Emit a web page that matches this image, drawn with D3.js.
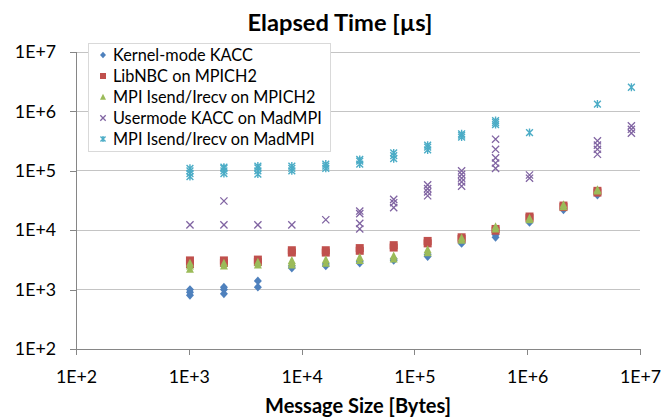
<!DOCTYPE html>
<html><head><meta charset="utf-8">
<script src="https://cdn.jsdelivr.net/npm/d3@7"></script>
<style>body{margin:0;background:#fff} svg{display:block;font-family:Lato,'Open Sans',sans-serif}</style>
</head><body><svg id="c" width="664" height="420"></svg>
<script>
// Message sizes (bytes)
const sizes = [1024, 2048, 4096, 8192, 16384, 32768, 65536, 131072, 262144, 524288, 1048576, 2097152, 4194304, 8388608];
// Elapsed time samples [µs] per size, per series
const kernelKACC = [[800, 900, 1000], [850, 1000, 1100], [1100, 1400], [2300, 2500], [2500, 2700], [2800, 3000], [3100, 3300], [3600, 3900], [6000, 6300], [7600, 8400], [13500], [22000], [39000], []];
const libNBC = [[2700, 3100], [2800, 3100], [2900, 3200], [4200, 4600], [4200, 4600], [4500, 5000], [5100, 5600], [6000, 6600], [7100, 7600], [9800, 10500], [16000, 17000], [24500, 26000], [43000, 46000], []];
const mpiMPICH2 = [[2200, 2500, 2800], [2500, 2800], [2600, 2900], [2600, 2900, 3100], [2800, 3200], [3100, 3500], [3300, 3700], [4200, 4700], [6800, 7400], [10500, 11500], [15000, 16000], [25000, 27000], [46000, 48000], []];
const userKACC = [[12300], [12300, 31000], [12300], [12300], [15000], [10500, 13000, 19000, 21000], [24000, 29000, 33000], [38000, 44000, 50000, 58000], [55000, 65000, 75000, 87000, 100000], [110000, 135000, 165000, 230000, 340000], [75000, 85000], [], [190000, 230000, 270000, 320000], [430000, 500000, 570000]];
const mpiMadMPI = [[80000, 90000, 100000, 110000], [90000, 100000, 110000, 115000], [88000, 100000, 112000, 120000], [100000, 110000, 120000], [110000, 120000, 130000], [130000, 145000, 155000], [160000, 180000, 200000], [225000, 250000, 270000], [370000, 400000, 420000], [600000, 650000, 700000], [440000], [], [1330000], [2550000]];
const seriesNames = ["Kernel-mode KACC", "LibNBC on MPICH2", "MPI Isend/Irecv on MPICH2", "Usermode KACC on MadMPI", "MPI Isend/Irecv on MadMPI"];
const tickValues = [1e2, 1e3, 1e4, 1e5, 1e6, 1e7];
const tickLabels = ["1E+2", "1E+3", "1E+4", "1E+5", "1E+6", "1E+7"];

const series = [
  {name: seriesNames[0], data: kernelKACC, color: "#4F81BD", shape: "diamond"},
  {name: seriesNames[1], data: libNBC, color: "#C0504D", shape: "square"},
  {name: seriesNames[2], data: mpiMPICH2, color: "#9BBB59", shape: "triangle"},
  {name: seriesNames[3], data: userKACC, color: "#8064A2", shape: "x"},
  {name: seriesNames[4], data: mpiMadMPI, color: "#4BACC6", shape: "star"}
];

const svg = d3.select("#c");
const L = 76, R = 640, T = 52, B = 349;
const x = d3.scaleLog().domain([1e2, 1e7]).range([L, R]);
const y = d3.scaleLog().domain([1e2, 1e7]).range([B, T]);
const fmt = d => tickLabels[tickValues.indexOf(d)];

// fit a text element's font size so its width matches a target
function fit(sel, target) {
  sel.attr("font-size", 20);
  const w = sel.node().getComputedTextLength();
  sel.attr("font-size", 20 * target / w);
  return 20 * target / w;
}

// gridlines
svg.append("g").selectAll("line").data(tickValues.slice(1)).join("line")
  .attr("x1", L).attr("x2", R).attr("y1", d => y(d)).attr("y2", d => y(d))
  .attr("stroke", "#c4c4c4").attr("stroke-width", 1).attr("shape-rendering", "crispEdges");

// axes
const ya = svg.append("g").attr("transform", `translate(${L},0)`)
  .call(d3.axisLeft(y).tickValues(tickValues).tickFormat(fmt).tickSize(6).tickPadding(14));
const xa = svg.append("g").attr("transform", `translate(0,${B})`)
  .call(d3.axisBottom(x).tickValues(tickValues).tickFormat(fmt).tickSize(6).tickPadding(15));
const probe = ya.select(".tick:last-of-type text");
const tickFs = fit(probe, 42);
[ya, xa].forEach(a => {
  a.select(".domain").attr("stroke", "#868686").attr("shape-rendering", "crispEdges");
  a.selectAll(".tick line").attr("stroke", "#868686").attr("shape-rendering", "crispEdges");
  a.selectAll("text").attr("font-size", tickFs).attr("fill", "#000").attr("font-family", "Lato");
});
ya.select(".domain").attr("d", `M0,${B + 6}V${T}`);
xa.select(".domain").attr("d", `M${L - 6},0H${R}`);

function marker(g, shape, cx, cy, s, color) {
  if (shape === "diamond") {
    g.append("path").attr("d", `M${cx},${cy - s * 1.1}L${cx + s},${cy}L${cx},${cy + s * 1.1}L${cx - s},${cy}Z`).attr("fill", color);
  } else if (shape === "square") {
    g.append("rect").attr("x", cx - s).attr("y", cy - s).attr("width", 2 * s).attr("height", 2 * s).attr("fill", color);
  } else if (shape === "triangle") {
    g.append("path").attr("d", `M${cx},${cy - s * 1.1}L${cx + s},${cy + s * 0.9}L${cx - s},${cy + s * 0.9}Z`).attr("fill", color);
  } else if (shape === "x") {
    const k = s * 0.9;
    g.append("path").attr("d", `M${cx - k},${cy - k}L${cx + k},${cy + k}M${cx - k},${cy + k}L${cx + k},${cy - k}`)
      .attr("stroke", color).attr("stroke-width", 1.3).attr("fill", "none");
  } else if (shape === "star") {
    const k = s * 0.85;
    g.append("path").attr("d", `M${cx - k},${cy - k}L${cx + k},${cy + k}M${cx - k},${cy + k}L${cx + k},${cy - k}M${cx},${cy - s}L${cx},${cy + s}`)
      .attr("stroke", color).attr("stroke-width", 1.4).attr("fill", "none");
  }
}

// points
series.forEach(s => {
  const g = svg.append("g");
  s.data.forEach((vals, i) => vals.forEach(v => marker(g, s.shape, x(sizes[i]), y(v), 4, s.color)));
});

// legend
const lg = svg.append("g");
lg.append("rect").attr("x", 88.5).attr("y", 43.5).attr("width", 242).attr("height", 108)
  .attr("fill", "#fff").attr("stroke", "#d9d9d9");
const legTexts = [];
series.forEach((s, i) => {
  const ly = 55 + i * 21;
  marker(lg, s.shape, 103, ly, 3, s.color);
  legTexts.push(lg.append("text").attr("x", 113).attr("y", ly).attr("dy", "0.35em").text(s.name));
});
const legFs = fit(legTexts[3], 209);
legTexts.forEach(t => t.attr("font-size", legFs));

// titles
const title = svg.append("text").attr("x", 340).attr("y", 23).attr("dy", "0.35em").attr("text-anchor", "middle")
  .attr("font-weight", "bold").text("Elapsed Time [µs]");
fit(title, 185);
const xt = svg.append("text").attr("x", 358).attr("y", 406).attr("dy", "0.35em").attr("text-anchor", "middle")
  .attr("font-weight", "bold").text("Message Size [Bytes]");
fit(xt, 186);
</script></body></html>
